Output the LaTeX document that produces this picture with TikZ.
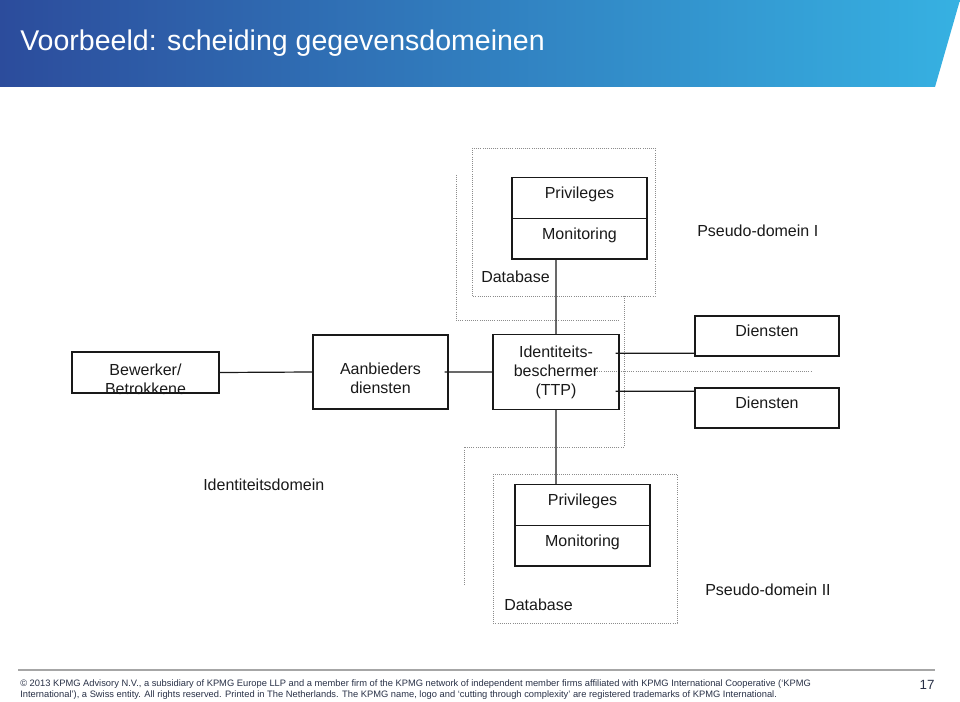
\documentclass[tikz,border=0pt]{standalone}
\usepackage{fontspec}
\setmainfont{Liberation Sans}
\usepackage{tikz}
\definecolor{kpmgdark}{RGB}{44,76,156}
\definecolor{kpmglight}{RGB}{54,177,226}
\definecolor{inkt}{RGB}{25,25,25}
\definecolor{voet}{RGB}{40,48,70}
\newcommand{\laag}[1]{\raisebox{-9.2pt}[0pt][0pt]{\begin{tabular}{@{}c@{}}#1\end{tabular}}}
\newcommand{\vlak}[1]{\raisebox{-0.6pt}[0pt][0pt]{#1}}

\begin{document}
\begin{tikzpicture}[x=0.75pt,y=-0.75pt,node distance=30.4pt,font=\fontsize{12}{14.25}\selectfont,text=inkt]
 \tikzstyle{blok}=[draw=inkt,rectangle,line width=1.1pt,minimum width=101.25pt,minimum height=30.4pt,inner sep=0pt,align=center]
 \tikzstyle{domein}=[draw=gray!90,densely dotted,line width=0.6pt]
 \tikzstyle{lijn}=[draw=inkt,line width=0.9pt]
 \tikzstyle{label}=[anchor=west,inner sep=0pt]

   \useasboundingbox (0,0) rectangle (960,702);
   \shade[left color=kpmgdark,right color=kpmglight] (0,0) -- (960,0) -- (935,87) -- (0,87) -- cycle;
   \node[anchor=west,inner sep=0pt,text=white,font=\fontsize{21.4}{25}\selectfont] (titel) at (20,43) {Voorbeeld: scheiding gegevensdomeinen};

   \draw[domein] (472,148) rectangle (655,296);
   \draw[domein] (456,175) -- (456,320) -- (620,320);
   \draw[domein] (624,296) -- (624,447) -- (464,447) -- (464,585);
   \draw[domein] (493,474) rectangle (677,623);
   \draw[domein] (578,371) -- (811,371);

   \node[blok] (priv1) at (579.5,198) {\vlak{Privileges}};
   \node[blok] (mon1) [below of = priv1] {\vlak{Monitoring}};
   \node[label] (db1) at (481,277) {Database};
   \node[label] (pseudo1) at (697,231) {Pseudo-domein I};

   \node[blok,minimum width=110pt,minimum height=31pt] (bew) at (145.5,372.5) {\laag{Bewerker/\\Betrokkene}};
   \node[blok,minimum height=55.5pt] (aanb) at (380.5,372) {\laag{Aanbieders\\diensten}};
   \node[blok,minimum width=94.5pt,minimum height=56pt] (ttp) at (556,372) {Identiteits-\\beschermer\\(TTP)};
   \node[blok,minimum width=108pt,minimum height=30pt] (dien1) at (767,336) {\vlak{Diensten}};
   \node[blok,minimum width=108pt,minimum height=30pt,node distance=54pt] (dien2) [below of = dien1] {\vlak{Diensten}};

   \node[label] (iddomein) at (203,485) {Identiteitsdomein};
   \node[blok] (priv2) at (582.5,505) {\vlak{Privileges}};
   \node[blok] (mon2) [below of = priv2] {\vlak{Monitoring}};
   \node[label] (db2) at (504,605) {Database};
   \node[label] (pseudo2) at (705,590) {Pseudo-domein II};

   \coordinate (t1) at ([xshift=-3pt,yshift=14pt]ttp.east);
   \coordinate (t2) at ([xshift=-3pt,yshift=-14.5pt]ttp.east);
   \draw[lijn] (bew.east) -- (aanb.west)
     ([xshift=-3pt]aanb.east) -- (ttp.west)
     (ttp.north) -- (ttp.north |- mon1.south)
     (ttp.south) -- (ttp.south |- priv2.north)
     (t1) -- (t1 -| dien1.west)
     (t2) -- (t2 -| dien2.west);

   \draw[gray!70,line width=0.8pt] (18,670) -- (935,670);
   \node[label,text=voet,font=\fontsize{7}{9}\selectfont] (voet1) at (20,684) {© 2013 KPMG Advisory N.V., a subsidiary of KPMG Europe LLP and a member firm of the KPMG network of independent member firms affiliated with KPMG International Cooperative (‘KPMG};
   \node[label,text=voet,font=\fontsize{7}{9}\selectfont] (voet2) at (20,695) {International’), a Swiss entity. All rights reserved. Printed in The Netherlands. The KPMG name, logo and ‘cutting through complexity’ are registered trademarks of KPMG International.};
   \node[text=voet,font=\fontsize{10}{12}\selectfont] (pagina) at (927,685) {17};

\end{tikzpicture}
\end{document}
